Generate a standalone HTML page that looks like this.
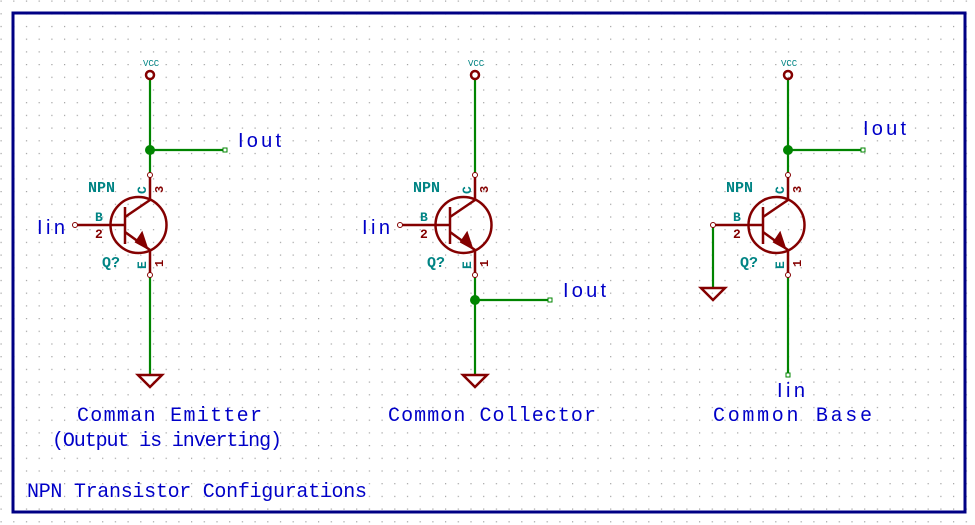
<!DOCTYPE html>
<html><head><meta charset="utf-8"><style>
html,body{margin:0;padding:0;background:#fff;}
svg{display:block}
text{font-family:"Liberation Mono",monospace;}
.b{fill:#0000c8;font-size:20px;}
.n{font-family:"Liberation Sans",sans-serif;}
.t{fill:#008484;font-size:15px;font-weight:bold;}
.w{stroke:#008400;stroke-width:2.2;fill:none}
.r{stroke:#840000;stroke-width:2.5;fill:none}
</style></head><body>
<svg width="975" height="525" viewBox="0 0 975 525">
<defs>
<pattern id="g" x="0.5" y="0.5" width="12.7" height="12.7" patternUnits="userSpaceOnUse">
<rect x="0" y="0" width="1.2" height="1.2" fill="#a0a0a0"/></pattern>
<g id="q">
<circle cx="0" cy="-75" r="4" class="r" stroke-width="2"/>
<text x="-7" y="-84" style="fill:#008484;font-size:9px">VCC</text>
<circle cx="-11.5" cy="75" r="28" class="r"/>
<line x1="-25" y1="57" x2="-25" y2="94" class="r" stroke-width="3"/>
<line x1="-75" y1="75" x2="-25" y2="75" class="r"/>
<line x1="-25" y1="67" x2="0" y2="50" class="r"/>
<line x1="0" y1="50" x2="0" y2="25" class="r"/>
<line x1="-25" y1="82" x2="0" y2="100" class="r"/>
<polygon points="-14,92 -3,98 -8,83" fill="#840000" stroke="#840000" stroke-width="2"/>
<line x1="0" y1="100" x2="0" y2="125" class="r"/>
<circle cx="-75" cy="75" r="2.5" fill="#fff" stroke="#840000" stroke-width="1"/>
<circle cx="0" cy="25" r="2.5" fill="#fff" stroke="#840000" stroke-width="1"/>
<circle cx="0" cy="125" r="2.5" fill="#fff" stroke="#840000" stroke-width="1"/>
<text x="-62" y="42" class="t">NPN</text>
<text x="-16" y="42" class="t" transform="rotate(-90 -9 37)" style="font-size:13px">C</text>
<text x="3" y="43" class="t" style="fill:#840000;font-size:12px" transform="rotate(-90 8 38)">3</text>
<text x="-55" y="71" class="t" style="font-size:13px">B</text>
<text x="-55" y="88" class="t" style="fill:#840000;font-size:13px">2</text>
<text x="-48" y="117" class="t">Q?</text>
<text x="-16" y="117" class="t" transform="rotate(-90 -9 112)" style="font-size:13px">E</text>
<text x="3" y="117" class="t" style="fill:#840000;font-size:12px" transform="rotate(-90 8 112)">1</text>
</g>
<g id="gnd"><polygon points="-12,0 12,0 0,12" class="r" stroke-width="2"/></g>
</defs>
<rect width="975" height="525" fill="url(#g)"/>
<rect x="13" y="13" width="952" height="499" fill="none" stroke="#000084" stroke-width="3"/>

<!-- CE -->
<line x1="150" y1="79" x2="150" y2="175" class="w"/>
<line x1="150" y1="150" x2="225" y2="150" class="w"/>
<line x1="150" y1="275" x2="150" y2="375" class="w"/>
<circle cx="150" cy="150" r="5" fill="#008400"/>
<rect x="223" y="148" width="4" height="4" fill="#fff" stroke="#008400"/>
<use href="#q" x="150" y="150"/>
<use href="#gnd" x="150" y="375"/>
<text x="238" y="147" class="b n" textLength="43">Iout</text>
<text x="37" y="234" class="b n" textLength="28">Iin</text>
<text x="77" y="421" class="b" textLength="185">Comman Emitter</text>
<text x="52" y="446" class="b" textLength="230">(Output is inverting)</text>

<!-- CC -->
<line x1="475" y1="79" x2="475" y2="175" class="w"/>
<line x1="475" y1="275" x2="475" y2="375" class="w"/>
<line x1="475" y1="300" x2="550" y2="300" class="w"/>
<circle cx="475" cy="300" r="5" fill="#008400"/>
<rect x="548" y="298" width="4" height="4" fill="#fff" stroke="#008400"/>
<use href="#q" x="475" y="150"/>
<use href="#gnd" x="475" y="375"/>
<text x="563" y="297" class="b n" textLength="43">Iout</text>
<text x="362" y="234" class="b n" textLength="28">Iin</text>
<text x="388" y="421" class="b" textLength="208">Common Collector</text>

<!-- CB -->
<line x1="788" y1="79" x2="788" y2="175" class="w"/>
<line x1="788" y1="150" x2="863" y2="150" class="w"/>
<line x1="788" y1="275" x2="788" y2="375" class="w"/>
<line x1="713" y1="225" x2="713" y2="288" class="w"/>
<circle cx="788" cy="150" r="5" fill="#008400"/>
<rect x="861" y="148" width="4" height="4" fill="#fff" stroke="#008400"/>
<rect x="786" y="373" width="4" height="4" fill="#fff" stroke="#008400"/>
<use href="#q" x="788" y="150"/>
<use href="#gnd" x="713" y="288"/>
<text x="863" y="135" class="b n" textLength="43">Iout</text>
<text x="777" y="397" class="b n" textLength="28">Iin</text>
<text x="713" y="421" class="b" textLength="159">Common Base</text>

<text x="27" y="497" class="b" textLength="340">NPN Transistor Configurations</text>
</svg>
</body></html>
